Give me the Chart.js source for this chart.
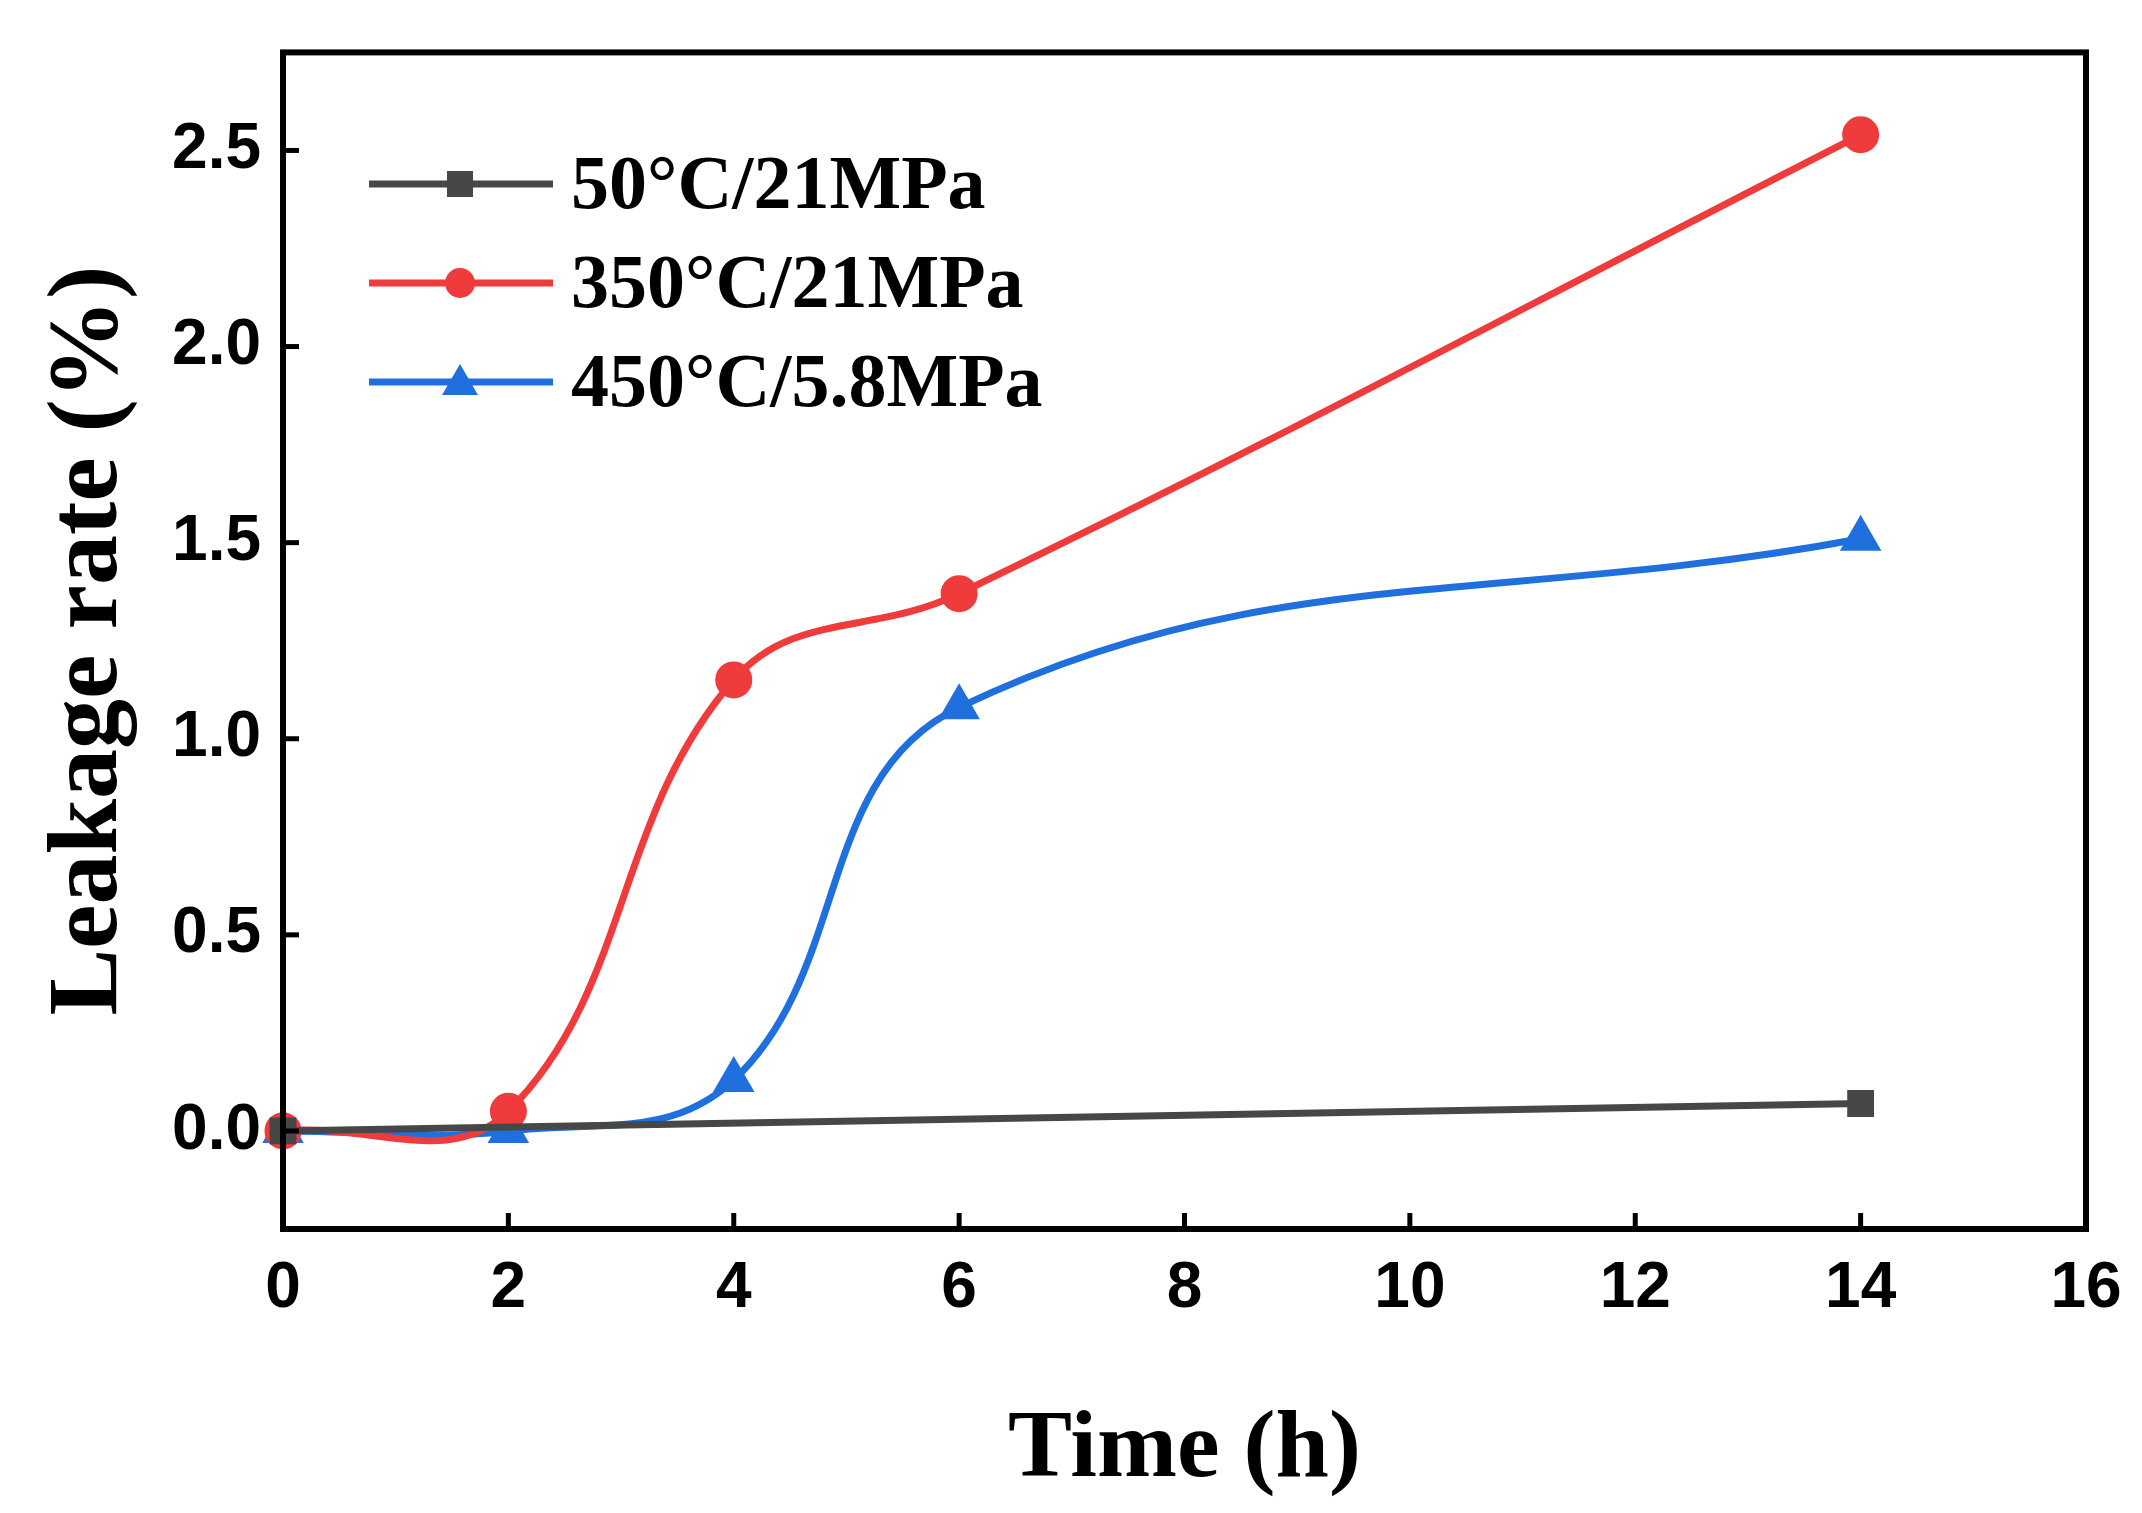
<!DOCTYPE html>
<html>
<head>
<meta charset="utf-8">
<script src="https://cdn.jsdelivr.net/npm/chart.js@4/dist/chart.umd.min.js"></script>
<style>
  html, body { margin: 0; padding: 0; background: #fff; }
  #wrap { width: 2142px; height: 1513px; }
</style>
</head>
<body>
<div id="wrap"><canvas id="c" width="2142" height="1513"></canvas></div>
<script>
// --- DATA ---
const xTicks = [0, 2, 4, 6, 8, 10, 12, 14, 16];
const yTicks = [0.0, 0.5, 1.0, 1.5, 2.0, 2.5];
const seriesNames = ['50°C/21MPa', '350°C/21MPa', '450°C/5.8MPa'];
const s50 = [{x: 0, y: 0}, {x: 14, y: 0.07}];
const s350 = [{x: 0, y: 0}, {x: 2, y: 0.05}, {x: 4, y: 1.15}, {x: 6, y: 1.37}, {x: 14, y: 2.54}];
const s450 = [{x: 0, y: 0}, {x: 2, y: 0.0}, {x: 4, y: 0.13}, {x: 6, y: 1.08}, {x: 14, y: 1.51}];

const colors = ['#474747', '#ef3b3c', '#1f6fde'];
const markers = ['rect', 'circle', 'triangle'];

// --- frame, inward ticks, legend ---
const framePlugin = {
    id: 'frame',
    afterDraw(chart) {
        const ctx = chart.ctx;
        const a = chart.chartArea;
        const xs = chart.scales.x, ys = chart.scales.y;
        ctx.save();
        ctx.strokeStyle = '#000';
        ctx.lineWidth = 6;
        ctx.strokeRect(a.left, a.top, a.right - a.left, a.bottom - a.top);
        ctx.lineWidth = 5;
        xTicks.forEach(v => {
            const px = xs.getPixelForValue(v);
            ctx.beginPath(); ctx.moveTo(px, a.bottom); ctx.lineTo(px, a.bottom - 16); ctx.stroke();
        });
        yTicks.forEach(v => {
            const py = ys.getPixelForValue(v);
            ctx.beginPath(); ctx.moveTo(a.left, py); ctx.lineTo(a.left + 16, py); ctx.stroke();
        });

        // legend
        const rows = [184, 283, 382];
        ctx.font = 'bold 76px "Liberation Serif"';
        ctx.textBaseline = 'middle';
        rows.forEach((y, i) => {
            ctx.strokeStyle = colors[i];
            ctx.fillStyle = colors[i];
            ctx.lineWidth = 7;
            ctx.beginPath(); ctx.moveTo(369, y); ctx.lineTo(553, y); ctx.stroke();
            const m = 460;
            ctx.beginPath();
            if (markers[i] === 'rect') ctx.rect(m - 13, y - 13, 26, 26);
            else if (markers[i] === 'circle') ctx.arc(m, y, 15, 0, Math.PI * 2);
            else { ctx.moveTo(m, y - 18); ctx.lineTo(m + 18, y + 13); ctx.lineTo(m - 18, y + 13); ctx.closePath(); }
            ctx.fill();
            ctx.fillStyle = '#000';
            ctx.fillText(seriesNames[i], 571, y + 4);
        });
        ctx.restore();
    }
};

function ds(label, data, i, radius) {
    return {
        label: label,
        data: data,
        borderColor: colors[i],
        backgroundColor: colors[i],
        borderWidth: 7,
        pointStyle: markers[i],
        pointRadius: radius,
        tension: 0.4,
        clip: false
    };
}

new Chart(document.getElementById('c').getContext('2d'), {
    type: 'line',
    data: {
        datasets: [
            ds(seriesNames[0], s50, 0, 14),
            ds(seriesNames[1], s350, 1, 15),
            ds(seriesNames[2], s450, 2, 17)
        ]
    },
    options: {
        responsive: false,
        animation: false,
        layout: { padding: { top: 22, right: 56, left: 0, bottom: 0 } },
        plugins: { legend: { display: false }, tooltip: { enabled: false } },
        scales: {
            x: {
                type: 'linear', min: 0, max: 16,
                afterBuildTicks: s => { s.ticks = xTicks.map(v => ({ value: v })); },
                afterFit: s => { s.height = 284; },
                grid: { display: false },
                border: { display: false },
                ticks: { color: '#000', font: { family: 'Liberation Sans', weight: 'bold', size: 64 }, padding: 14, maxRotation: 0 },
                title: { display: true, text: 'Time (h)', color: '#000', padding: { top: 30 },
                         font: { family: 'Liberation Serif', weight: 'bold', size: 96 } }
            },
            y: {
                type: 'linear', min: -0.25, max: 2.75,
                afterBuildTicks: s => { s.ticks = yTicks.map(v => ({ value: v })); },
                afterFit: s => { s.width = 283; },
                grid: { display: false },
                border: { display: false },
                ticks: { color: '#000', font: { family: 'Liberation Sans', weight: 'bold', size: 64 }, padding: 14,
                         callback: v => v.toFixed(1) },
                title: { display: true, text: 'Leakage rate (%)', color: '#000', padding: { top: 30, bottom: 8 },
                         font: { family: 'Liberation Serif', weight: 'bold', size: 100 } }
            }
        }
    },
    plugins: [framePlugin]
});
</script>
</body>
</html>
